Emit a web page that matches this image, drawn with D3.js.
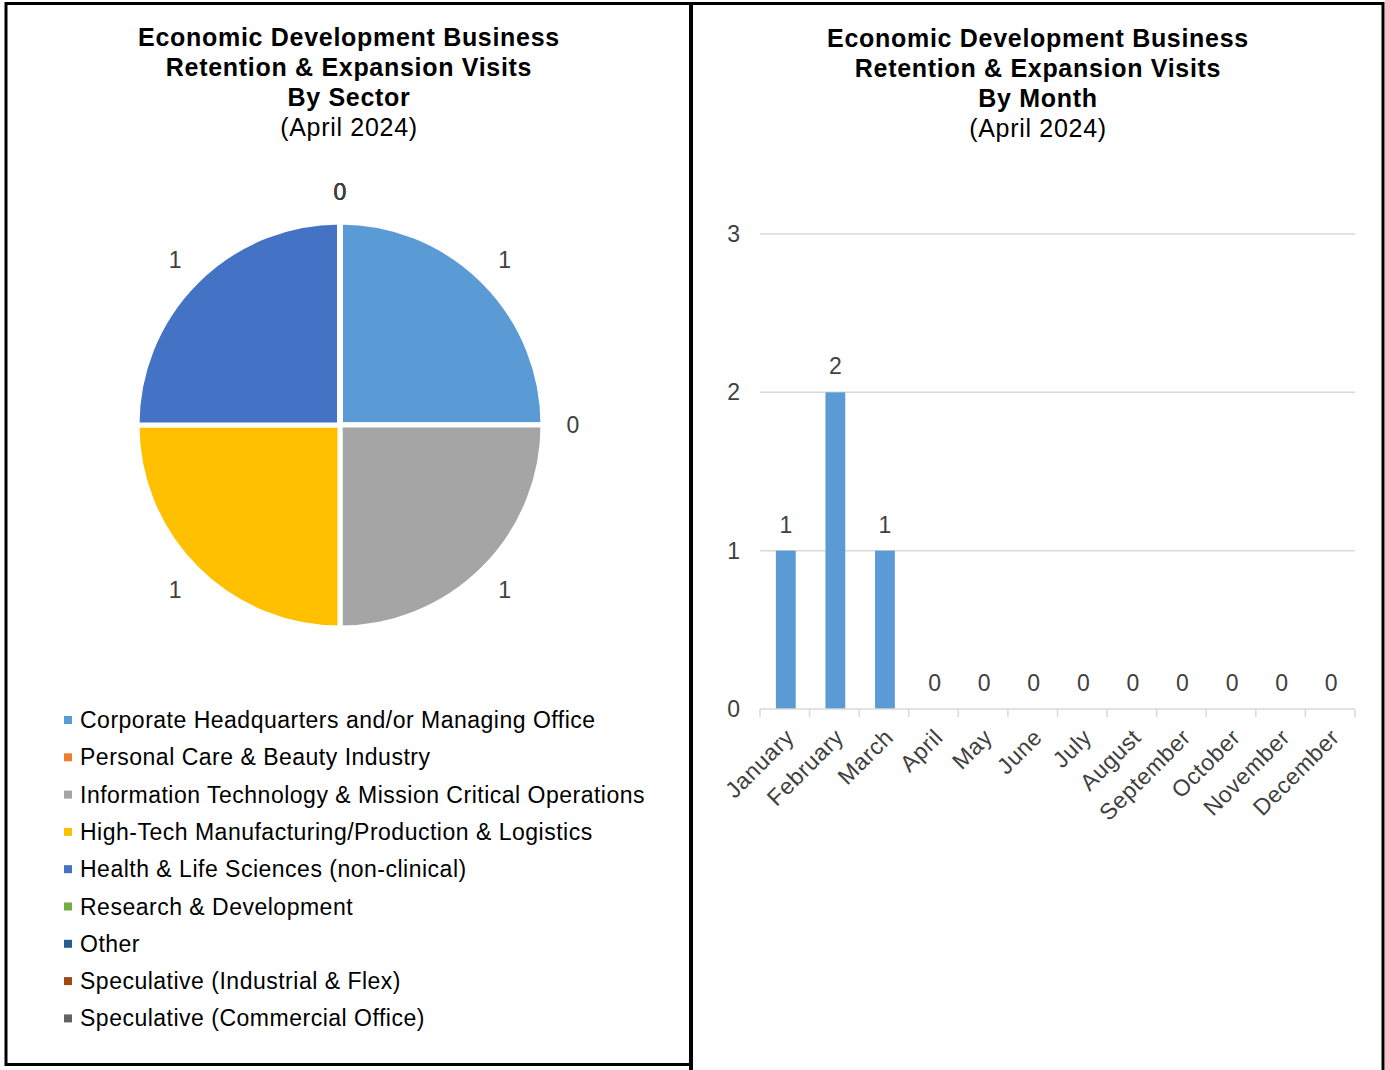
<!DOCTYPE html>
<html>
<head>
<meta charset="utf-8">
<script src="https://cdn.jsdelivr.net/npm/d3@7"></script>
<style>
  body { margin: 0; background: #fff; }
  svg { display: block; font-family: "Liberation Sans", Arial, sans-serif; }
</style>
</head>
<body>
<svg id="chart" width="1385" height="1070"></svg>
<script>
// sector data (pie)
let sectors = [
  "Corporate Headquarters and/or Managing Office",
  "Personal Care & Beauty Industry",
  "Information Technology & Mission Critical Operations",
  "High-Tech Manufacturing/Production & Logistics",
  "Health & Life Sciences (non-clinical)",
  "Research & Development",
  "Other",
  "Speculative (Industrial & Flex)",
  "Speculative (Commercial Office)"
]
let sectorVisits = [1, 0, 1, 1, 1, 0, 0, 0, 0]
let sectorColors = ["#5b9bd5", "#ed7d31", "#a5a5a5", "#ffc000", "#4472c4",
                    "#70ad47", "#255e91", "#9e480e", "#636363"]

// month data (bars)
let months = ["January", "February", "March", "April", "May", "June", "July",
              "August", "September", "October", "November", "December"]
let monthVisits = [1, 2, 1, 0, 0, 0, 0, 0, 0, 0, 0, 0]
let yTicks = [0, 1, 2, 3]

let leftTitle = ["Economic Development Business", "Retention & Expansion Visits", "By Sector", "(April 2024)"]
let rightTitle = ["Economic Development Business", "Retention & Expansion Visits", "By Month", "(April 2024)"]

let svg = d3.select("#chart")
let labelColor = "#404040"

// panel borders
svg.append("rect").attr("x", 6).attr("y", 3.5).attr("width", 685).attr("height", 1061)
  .attr("fill", "none").attr("stroke", "#000").attr("stroke-width", 3)
svg.append("line").attr("x1", 691).attr("x2", 691).attr("y1", 2).attr("y2", 1070)
  .attr("stroke", "#000").attr("stroke-width", 4)
svg.append("polyline").attr("points", "691,3.5 1383,3.5 1383,1070")
  .attr("fill", "none").attr("stroke", "#000").attr("stroke-width", 3)

function title(lines, cx, y0) {
  svg.append("g").selectAll("text")
    .data(lines)
    .enter()
    .append("text")
      .attr("x", cx)
      .attr("y", (d, i) => y0 + i * 30)
      .attr("text-anchor", "middle")
      .attr("font-size", 25)
      .attr("letter-spacing", 0.7)
      .attr("font-weight", (d, i) => i < 3 ? "bold" : "normal")
      .attr("fill", "#000")
      .text(d => d)
}
title(leftTitle, 349, 45.5)
title(rightTitle, 1038, 46.5)

// ---- pie ----
let cx = 340, cy = 425, radius = 203
let pie = d3.pie().sort(null).value(d => d)
let arcs = pie(sectorVisits)
let arc = d3.arc().innerRadius(0).outerRadius(radius)
let labelR = 233

let pieG = svg.append("g").attr("transform", `translate(${cx},${cy})`)
pieG.selectAll("path")
  .data(arcs)
  .enter()
  .append("path")
    .attr("d", arc)
    .attr("fill", (d, i) => sectorColors[i])
    .attr("stroke", "#fff")
    .attr("stroke-width", 5)
    .attr("stroke-linejoin", "round")

pieG.selectAll("text")
  .data(arcs)
  .enter()
  .append("text")
    .attr("x", d => labelR * Math.sin((d.startAngle + d.endAngle) / 2))
    .attr("y", d => -labelR * Math.cos((d.startAngle + d.endAngle) / 2))
    .attr("dy", "0.35em")
    .attr("text-anchor", "middle")
    .attr("font-size", 23)
    .attr("fill", labelColor)
    .text(d => d.data)

// legend
let legend = svg.append("g").selectAll("g")
  .data(sectors)
  .enter()
  .append("g")
    .attr("transform", (d, i) => `translate(64,${720 + i * 37.3})`)
legend.append("rect")
  .attr("x", 0).attr("y", -4).attr("width", 8).attr("height", 8)
  .attr("fill", (d, i) => sectorColors[i])
legend.append("text")
  .attr("x", 16).attr("y", 0).attr("dy", "0.35em")
  .attr("font-size", 23)
  .attr("letter-spacing", 0.5)
  .attr("fill", "#000")
  .text(d => d)

// ---- bars ----
let x = d3.scaleBand()
  .domain(months)
  .range([760, 1355])
  .paddingInner(0.6)
  .paddingOuter(0.3)
let y = d3.scaleLinear().domain([0, 3]).range([709, 234])

svg.append("g").selectAll("line")
  .data(yTicks.slice(1))
  .enter()
  .append("line")
    .attr("x1", 760).attr("x2", 1355)
    .attr("y1", d => y(d)).attr("y2", d => y(d))
    .attr("stroke", "#d9d9d9").attr("stroke-width", 1.5)

svg.append("g").selectAll("text")
  .data(yTicks)
  .enter()
  .append("text")
    .attr("x", 740).attr("y", d => y(d))
    .attr("dy", "0.35em")
    .attr("text-anchor", "end")
    .attr("font-size", 23)
    .attr("fill", labelColor)
    .text(d => d)

svg.append("g").selectAll("rect")
  .data(monthVisits)
  .enter()
  .append("rect")
    .attr("x", (d, i) => x(months[i]) + 1)
    .attr("width", x.bandwidth())
    .attr("y", d => y(d))
    .attr("height", d => y(0) - y(d))
    .attr("fill", "#5b9bd5")

svg.append("g").selectAll("text")
  .data(monthVisits)
  .enter()
  .append("text")
    .attr("x", (d, i) => x(months[i]) + x.bandwidth() / 2 + 1)
    .attr("y", d => y(d) - 26)
    .attr("dy", "0.35em")
    .attr("text-anchor", "middle")
    .attr("font-size", 23)
    .attr("fill", labelColor)
    .text(d => d)

// x axis line and ticks at band edges
svg.append("line")
  .attr("x1", 760).attr("x2", 1355).attr("y1", y(0)).attr("y2", y(0))
  .attr("stroke", "#d9d9d9").attr("stroke-width", 1.5)
svg.append("g").selectAll("line")
  .data(d3.range(months.length + 1))
  .enter()
  .append("line")
    .attr("x1", i => 760 + i * x.step()).attr("x2", i => 760 + i * x.step())
    .attr("y1", y(0)).attr("y2", y(0) + 8)
    .attr("stroke", "#d9d9d9").attr("stroke-width", 1.5)

svg.append("g").selectAll("text")
  .data(months)
  .enter()
  .append("text")
    .attr("transform", d => `translate(${x(d) + x.bandwidth() / 2 + 5},${y(0) + 24}) rotate(-45)`)
    .attr("dy", "0.35em")
    .attr("text-anchor", "end")
    .attr("font-size", 23)
    .attr("letter-spacing", 0.6)
    .attr("fill", labelColor)
    .text(d => d)
</script>
</body>
</html>
